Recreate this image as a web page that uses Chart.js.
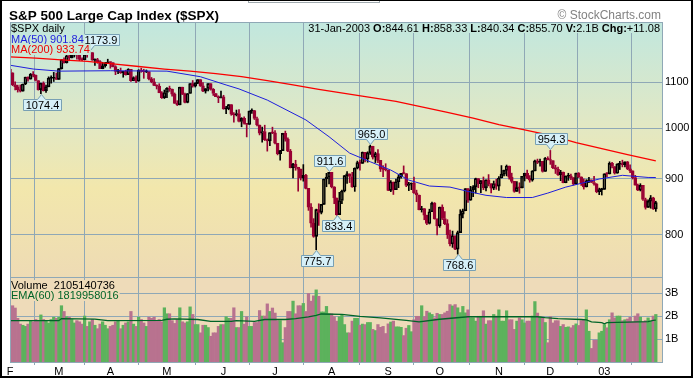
<!DOCTYPE html>
<html>
<head>
<meta charset="utf-8">
<script src="https://cdn.jsdelivr.net/npm/chart.js@4.4.1/dist/chart.umd.min.js"></script>
<style>
  html, body { margin: 0; padding: 0; background: #fff; }
  #wrap { width: 693px; height: 378px; }
</style>
</head>
<body>
<div id="wrap"><canvas id="spx" width="693" height="378"></canvas></div>
<script>
// month boundaries (trading-day index of first session) and their axis letters
var monthTicks = [0, 19, 39, 61, 83, 103, 125, 147, 167, 190, 210, 231];
var monthLabels = ['F', 'M', 'A', 'M', 'J', 'J', 'A', 'S', 'O', 'N', 'D', '03'];
var priceTicks = [800, 900, 1000, 1100];
var volumeTicks = [1, 2, 3];

// daily $SPX, Feb 2002 .. Jan 2003
var opens = [
  1130.2,1122.2,1094.4,1090.0,1083.5,1080.2,1096.2,1111.9,1107.5,1118.5,1116.5,1104.2,1083.3,1098.0,1081.0,1089.8,1109.4,1109.4,1109.9,
  1106.7,1131.8,1153.8,1146.1,1162.8,1157.5,1164.3,1168.3,1165.6,1154.1,1153.0,1166.2,1165.6,1170.3,1151.9,1153.6,1148.7,1131.9,1138.5,1144.6,
  1147.4,1146.5,1136.8,1125.4,1126.3,1122.7,1125.3,1117.8,1130.5,1103.7,1111.0,1102.6,1128.4,1126.1,1124.5,1125.2,1107.8,1101.0,1093.1,1091.5,1076.3,1065.5,
  1076.9,1086.5,1084.6,1073.4,1052.7,1049.5,1088.9,1073.0,1055.0,1074.6,1097.3,1091.1,1098.2,1106.6,1091.9,1079.9,1086.0,1097.1,1083.8,1074.6,1067.7,1064.7,
  1067.1,1040.7,1040.7,1049.9,1029.2,1027.5,1030.7,1013.6,1020.3,1009.6,1007.3,1036.2,1037.1,1020.0,1006.3,989.1,992.7,976.1,973.5,990.6,
  989.8,968.7,948.1,954.0,989.0,977.0,952.8,920.5,927.4,921.4,917.9,900.9,906.0,881.6,847.8,819.9,797.7,843.4,838.7,852.8,899.0,902.8,
  911.6,884.7,864.2,834.6,859.6,876.8,905.5,908.6,903.8,884.2,919.6,930.3,928.8,950.7,937.4,949.4,962.7,940.9,948.0,934.8,917.9,917.8,
  916.1,878.0,893.4,879.2,893.9,903.0,909.6,909.5,886.9,889.8,891.1,873.5,869.5,843.3,845.4,833.7,819.3,839.7,855.0,827.4,
  815.3,847.9,827.9,819.0,800.6,785.3,798.6,776.8,803.9,835.3,841.4,881.3,860.0,879.2,884.4,899.7,890.2,896.1,882.5,897.7,890.2,882.2,890.7,
  885.8,901.0,908.4,915.4,923.8,902.7,894.7,876.2,883.0,882.5,904.3,909.8,900.4,896.7,914.2,933.8,930.6,932.9,913.3,938.9,
  936.3,934.5,920.8,917.6,906.6,912.2,892.0,904.5,905.0,901.6,889.5,910.4,903.0,891.1,884.3,895.8,897.4,892.5,889.7,875.4,879.4,
  879.8,909.0,908.6,929.0,922.9,909.9,927.6,927.6,926.3,931.7,918.2,914.6,901.8,887.6,878.4,887.3,861.4,847.5,858.5,864.4,844.61
];
var highs = [
  1130.2,1122.2,1100.9,1093.6,1094.0,1096.3,1112.0,1112.7,1120.6,1124.7,1117.1,1104.2,1098.3,1101.2,1093.9,1112.7,1115.1,1123.1,1121.6,
  1131.8,1153.8,1157.7,1165.3,1167.9,1172.8,1173.0,1168.3,1165.6,1157.8,1166.5,1172.7,1173.9,1170.3,1155.1,1156.5,1151.0,1147.0,1146.9,1154.4,
  1147.8,1146.5,1138.9,1130.5,1133.3,1125.4,1128.3,1131.8,1130.5,1112.8,1114.9,1129.4,1133.0,1130.5,1128.8,1125.2,1111.2,1108.5,1094.4,1096.8,1078.9,1082.6,
  1088.3,1091.4,1084.6,1075.9,1058.7,1088.9,1088.9,1075.4,1074.8,1097.7,1104.2,1099.3,1106.6,1106.6,1099.6,1086.0,1097.1,1097.1,1085.9,1074.8,1069.5,1079.9,
  1070.7,1046.1,1050.1,1049.9,1033.0,1038.2,1039.0,1021.9,1023.5,1009.6,1036.2,1040.8,1037.6,1023.3,1006.3,1002.1,1005.9,977.4,990.7,1001.8,
  994.5,968.7,954.3,989.1,993.6,979.6,956.3,929.2,934.9,921.4,918.0,926.5,907.8,881.6,854.1,827.7,844.3,853.8,852.9,899.1,909.8,911.6,
  911.6,884.7,864.2,874.4,878.7,905.8,913.0,908.6,911.7,920.2,933.3,935.4,951.2,950.7,951.6,965.0,962.7,950.8,955.8,934.8,924.6,928.2,
  916.1,896.1,893.4,899.1,907.3,909.9,924.0,909.5,892.8,891.8,902.7,878.4,869.5,849.3,845.4,833.7,844.2,856.6,856.0,827.4,
  847.9,851.9,840.0,825.9,808.2,806.5,798.6,806.5,843.3,844.4,881.3,881.3,885.4,886.7,900.7,899.7,896.1,902.9,897.7,907.4,890.6,895.3,898.8,
  903.4,924.6,915.8,925.7,923.8,910.1,894.7,894.3,892.0,904.3,910.1,915.9,905.5,915.0,935.1,937.2,937.2,932.9,940.4,941.8,
  954.3,934.5,925.3,921.5,915.5,912.2,904.9,909.9,908.4,901.6,910.4,911.2,903.0,899.2,897.8,902.4,897.4,903.9,890.5,882.1,881.9,
  909.0,911.3,931.8,930.8,922.9,928.3,932.9,935.1,931.7,932.6,926.0,914.6,906.0,889.7,890.3,887.3,863.9,860.8,868.7,865.5,858.33
];
var lows = [
  1118.5,1092.3,1082.6,1077.8,1078.0,1079.9,1094.7,1102.6,1107.5,1112.3,1103.2,1082.2,1074.4,1080.2,1077.0,1089.8,1098.0,1102.0,1106.7,
  1106.7,1130.9,1144.8,1145.1,1150.7,1157.5,1159.6,1154.3,1151.0,1151.1,1153.0,1159.1,1165.6,1151.6,1139.5,1144.6,1131.9,1131.6,1135.3,1144.6,
  1132.9,1135.7,1117.8,1120.1,1120.7,1111.8,1116.7,1117.8,1102.4,1103.7,1099.4,1102.6,1123.4,1109.3,1122.6,1105.6,1098.9,1092.5,1084.8,1076.3,1063.6,1063.5,
  1065.3,1079.5,1068.9,1052.7,1048.0,1049.5,1072.2,1053.9,1053.9,1074.6,1088.9,1089.2,1096.8,1090.6,1079.0,1075.6,1080.6,1082.2,1070.3,1067.7,1054.3,1064.7,
  1039.9,1030.5,1038.8,1026.9,1012.5,1025.5,1012.9,1002.6,1008.1,981.6,1007.3,1030.9,1017.9,1004.6,985.7,970.9,974.2,952.9,963.7,988.3,
  967.4,945.5,934.9,954.0,972.9,951.7,920.1,900.9,915.6,876.5,897.1,895.0,880.6,842.1,813.3,796.1,775.7,816.1,835.9,852.8,884.7,889.9,
  882.5,853.9,833.4,834.6,854.1,875.2,890.8,892.4,883.6,876.2,918.2,916.0,928.8,931.9,931.1,946.4,937.2,930.4,930.4,913.2,903.3,914.3,
  877.5,875.7,870.5,879.2,882.9,900.5,908.5,884.8,877.5,879.3,872.4,857.4,843.1,839.1,825.8,817.4,818.5,839.7,826.8,800.2,
  812.8,826.1,817.3,794.1,782.0,779.5,775.8,768.6,803.9,828.9,841.4,856.3,860.0,866.6,873.1,882.8,873.8,879.2,877.0,886.2,873.3,879.2,879.8,
  877.7,901.0,904.9,905.0,898.7,891.6,874.6,876.2,872.8,882.5,895.4,899.5,893.1,894.9,914.2,928.4,923.3,912.1,913.3,935.6,
  926.9,918.7,909.5,905.9,895.9,891.9,892.0,896.5,897.7,887.8,889.5,901.7,887.1,880.3,884.3,892.3,892.3,887.5,873.6,870.2,869.5,
  879.8,903.1,908.6,919.9,908.3,909.9,917.0,922.1,922.0,916.7,911.0,899.0,887.6,877.6,876.9,859.7,844.3,847.5,845.9,843.7,840.34
];
var closes = [
  1122.2,1094.4,1090.0,1083.5,1080.2,1096.2,1111.9,1107.5,1118.5,1116.5,1104.2,1083.3,1098.0,1081.0,1089.8,1109.4,1109.4,1109.9,1106.7,
  1131.8,1153.8,1146.1,1162.8,1157.5,1164.3,1168.3,1165.6,1154.1,1153.0,1166.2,1165.6,1170.3,1151.9,1153.6,1148.7,1131.9,1138.5,1144.6,1147.4,
  1146.5,1136.8,1125.4,1126.3,1122.7,1125.3,1117.8,1130.5,1103.7,1111.0,1102.6,1128.4,1126.1,1124.5,1125.2,1107.8,1101.0,1093.1,1091.5,1076.3,1065.5,1076.9,
  1086.5,1084.6,1073.4,1052.7,1049.5,1088.9,1073.0,1055.0,1074.6,1097.3,1091.1,1098.2,1106.6,1091.9,1079.9,1086.0,1097.1,1083.8,1074.6,1067.7,1064.7,1067.1,
  1040.7,1040.7,1049.9,1029.2,1027.5,1030.7,1013.6,1020.3,1009.6,1007.3,1036.2,1037.1,1020.0,1006.3,989.1,992.7,976.1,973.5,990.6,989.8,
  968.7,948.1,954.0,989.0,977.0,952.8,920.5,927.4,921.4,917.9,900.9,906.0,881.6,847.8,819.9,797.7,843.4,838.7,852.8,899.0,902.8,911.6,
  884.7,864.2,834.6,859.6,876.8,905.5,908.6,903.8,884.2,919.6,930.3,928.8,950.7,937.4,949.4,962.7,940.9,948.0,934.8,917.9,917.8,916.1,
  878.0,893.4,879.2,893.9,903.0,909.6,909.5,886.9,889.8,891.1,873.5,869.5,843.3,845.4,833.7,819.3,839.7,855.0,827.4,815.3,
  847.9,827.9,819.0,800.6,785.3,798.6,776.8,803.9,835.3,841.4,881.3,860.0,879.2,884.4,899.7,890.2,896.1,882.5,897.7,890.2,882.2,890.7,885.8,
  901.0,908.4,915.4,923.8,902.7,894.7,876.2,883.0,882.5,904.3,909.8,900.4,896.7,914.2,933.8,930.6,932.9,913.3,938.9,936.3,
  934.5,920.8,917.6,906.6,912.2,892.0,904.5,905.0,901.6,889.5,910.4,903.0,891.1,884.3,895.8,897.4,892.5,889.7,875.4,879.4,879.8,
  909.0,908.6,929.0,922.9,909.9,927.6,927.6,926.3,931.7,918.2,914.6,901.8,887.6,878.4,887.3,861.4,847.5,858.5,864.4,844.61,855.70
];
// volume in billions of shares
var volumes = [
  1.95,2.45,2.35,1.90,1.65,1.60,1.55,1.65,1.80,1.75,1.85,1.80,2.05,1.85,1.80,1.70,1.85,1.95,1.90,
  1.95,2.45,2.20,1.97,1.95,1.85,1.70,1.80,1.75,1.65,2.00,1.55,1.75,1.85,1.60,1.45,1.65,1.75,1.60,1.45,
  1.55,1.60,1.75,1.80,1.45,1.60,1.70,1.75,2.20,1.65,1.55,1.95,1.85,1.70,1.55,1.95,1.90,1.95,1.80,1.85,1.75,2.36,
  2.10,2.10,1.80,
  1.68,1.85,2.36,1.75,1.70,1.75,2.40,2.07,1.63,1.63,1.27,1.60,1.60,1.50,1.12,1.27,1.27,1.55,1.63,
  1.63,1.97,1.90,1.90,2.36,1.50,1.50,2.20,1.65,1.97,1.55,1.55,1.72,1.72,2.24,2.00,2.00,2.53,2.20,2.35,
  2.13,1.80,1.80,0.84,1.50,2.20,2.20,2.65,2.10,2.45,2.45,2.55,2.20,2.98,2.65,2.88,3.14,2.86,2.18,2.18,2.42,2.10,
  2.10,1.97,1.78,1.97,
  2.07,1.63,1.27,1.27,1.78,1.90,1.90,1.60,1.65,1.63,1.72,1.72,1.42,1.37,1.63,1.51,1.55,1.24,
  1.66,1.74,1.78,1.53,1.53,1.51,1.15,1.47,1.59,1.32,1.84,1.99,1.99,2.45,1.97,2.21,2.14,2.07,1.92,2.12,
  2.07,2.07,2.14,2.21,2.50,2.44,2.50,2.36,2.15,2.42,2.14,2.27,1.92,1.92,1.78,1.99,1.99,2.23,1.65,1.80,1.80,2.07,2.00,
  2.27,1.78,1.78,2.23,1.84,1.84,1.42,1.78,1.92,1.84,1.70,1.78,1.78,2.00,2.63,2.13,1.97,1.95,1.72,0.84,
  1.97,1.70,1.80,1.80,1.55,1.63,1.51,1.53,1.49,1.59,1.66,1.59,1.80,1.84,2.27,1.34,0.59,0.95,0.95,1.27,1.34,
  1.63,1.49,1.84,2.14,1.92,2.00,2.00,1.80,1.84,1.87,1.95,1.75,2.00,2.10,1.95,1.75,1.80,1.92,1.78,2.00,2.07
];

// indicator lines: [trading-day index, value]
var ma50 = [[0,1140],[9,1131],[19,1126],[39,1127],[61,1126],[74,1113],[84,1094],[89,1085],[100,1060],
  [115,1017],[124,982],[132,949],[140,932],[148,916],[155,897],[163,886],[171,884],[179,875],[185,869],
  [193,865],[203,865],[209,873],[216,884],[222,891],[229,899],[238,906],[248,902],[251,901.84]];
var ma200 = [[0,1160],[10,1157],[20,1153],[30,1149],[40,1143],[50,1137],[60,1131],[70,1126],[80,1120],
  [90,1113],[100,1104],[110,1094],[120,1084],[130,1075],[140,1066],[150,1057],[160,1045],[170,1033],
  [180,1021],[190,1007],[200,996],[210,985],[220,970],[230,958],[240,946],[251,933.74]];
var ema60 = [[0,1.80],[19,1.80],[20,1.89],[33,1.87],[38,1.80],[59,1.81],[61,1.86],[64,1.88],[73,1.85],
  [78,1.77],[86,1.77],[88,1.80],[95,1.77],[99,1.85],[107,1.85],[111,1.89],[116,1.96],[119,2.03],[121,2.09],
  [129,2.07],[136,1.99],[144,1.92],[154,1.81],[159,1.75],[167,1.86],[178,1.97],[193,1.97],[205,1.97],
  [208,1.93],[213,1.89],[222,1.85],[224,1.83],[226,1.75],[230,1.71],[231,1.66],[232,1.71],[248,1.76],
  [250,1.81],[251,1.82]];

// annotated highs / lows
var peakIdx = [12, 31, 119, 124, 127, 140, 174, 210];
var peakVal = [1074.4, 1173.9, 775.7, 911.6, 833.4, 965.0, 768.6, 954.3];
var peakSide = ['low', 'high', 'low', 'high', 'low', 'high', 'low', 'high'];

var FONT = '"Liberation Sans", Arial, sans-serif';
var GRID = 'rgb(143,168,182)';
var RED = 'rgb(153,0,51)';
var VOL_UP = 'rgb(92,178,92)';
var VOL_DN = 'rgb(184,114,143)';

Chart.defaults.font.family = FONT;
Chart.defaults.font.size = 11;
Chart.defaults.color = '#000';

var days = closes.map(function (c, i) { return i; });
function isUp(i) { return closes[i] >= opens[i]; }
function col(i) { return isUp(i) ? '#000' : RED; }

var upperWick = days.map(function (i) { return {x: i, y: [Math.max(opens[i], closes[i]), highs[i]]}; });
var lowerWick = days.map(function (i) { return {x: i, y: [lows[i], Math.min(opens[i], closes[i])]}; });
var bodies = days.map(function (i) { return {x: i, y: [Math.min(opens[i], closes[i]), Math.max(opens[i], closes[i])]}; });
var volData = days.map(function (i) { return {x: i, y: volumes[i]}; });
function pts(arr) { return arr.map(function (p) { return {x: p[0], y: p[1]}; }); }

var priceFill = null;

var decor = {
  id: 'decor',
  beforeDraw: function (chart) {
    var ctx = chart.ctx, a = chart.chartArea, y = chart.scales.y, v = chart.scales.v;
    ctx.save();
    ctx.fillStyle = '#fff';
    ctx.fillRect(0, 0, chart.width, chart.height);
    priceFill = ctx.createLinearGradient(0, y.top, 0, y.bottom);
    priceFill.addColorStop(0, 'rgb(193,231,222)');
    priceFill.addColorStop(0.4, 'rgb(226,232,196)');
    priceFill.addColorStop(0.65, 'rgb(242,231,172)');
    priceFill.addColorStop(1, 'rgb(238,219,180)');
    ctx.fillStyle = priceFill;
    ctx.fillRect(a.left, y.top, a.right - a.left, y.bottom - y.top);
    ctx.fillStyle = 'rgb(238,219,185)';
    ctx.fillRect(a.left, v.top, a.right - a.left, v.bottom - v.top);
    ctx.restore();
  },
  afterDraw: function (chart) {
    var ctx = chart.ctx, a = chart.chartArea;
    var x = chart.scales.x, y = chart.scales.y, v = chart.scales.v;
    ctx.save();

    // right edge of the legend block, call-outs keep clear of it
    ctx.font = '11px ' + FONT;
    var legendRight = 11 + ctx.measureText('MA(50) 901.84').width;

    // high / low call-outs
    ctx.textAlign = 'center';
    ctx.textBaseline = 'middle';
    ctx.lineWidth = 1;
    peakIdx.forEach(function (idx, k) {
      var px = Math.round(x.getPixelForValue(idx)) + 0.5;
      var py = y.getPixelForValue(peakVal[k]);
      var txt = peakVal[k].toFixed(1);
      var w = Math.ceil(ctx.measureText(txt).width) + 4, h = 11;
      var left = Math.round(px - w / 2) + 0.5;
      var top, bot, tip;
      if (peakSide[k] === 'high') {
        tip = Math.round(py) - 0.5; bot = tip - 5; top = bot - h;
      } else {
        tip = Math.round(py) + 0.5; top = tip + 5; bot = top + h;
      }
      if (top < 56 && left < legendRight) left = Math.round(legendRight) - 1.5;
      var right = left + w;
      ctx.beginPath();
      if (peakSide[k] === 'high') {
        ctx.moveTo(left, top); ctx.lineTo(right, top); ctx.lineTo(right, bot);
        ctx.lineTo(px + 4, bot); ctx.lineTo(px, tip); ctx.lineTo(px - 4, bot); ctx.lineTo(left, bot);
      } else {
        ctx.moveTo(left, top); ctx.lineTo(px - 4, top); ctx.lineTo(px, tip); ctx.lineTo(px + 4, top);
        ctx.lineTo(right, top); ctx.lineTo(right, bot); ctx.lineTo(left, bot);
      }
      ctx.closePath();
      ctx.fillStyle = 'rgb(214,240,248)';
      ctx.fill();
      ctx.strokeStyle = 'rgb(120,160,180)';
      ctx.stroke();
      ctx.fillStyle = '#000';
      ctx.fillText(txt, (left + right) / 2, (top + bot) / 2 + 0.5);
    });

    // legend texts with their own background
    ctx.textAlign = 'left';
    ctx.textBaseline = 'alphabetic';
    function tag(txt, x0, base, color, bg, font) {
      ctx.font = font || ('11px ' + FONT);
      var w = ctx.measureText(txt).width;
      ctx.fillStyle = bg;
      ctx.fillRect(x0 - 1, base - 9, w + 2, 11);
      ctx.fillStyle = color;
      ctx.fillText(txt, x0, base);
    }
    tag('$SPX daily', 11, 32, '#000', priceFill);
    tag('MA(50) 901.84', 11, 43, 'rgb(30,30,220)', priceFill);
    tag('MA(200) 933.74', 11, 53, 'rgb(240,0,0)', priceFill);
    tag('Volume  2105140736', 11, 289, '#000', 'rgb(238,219,185)');
    tag('EMA(60) 1819958016', 11, 299, 'rgb(0,100,40)', 'rgb(238,219,185)');

    // quote line, right aligned, bold field names
    var segs = [['31-Jan-2003 ', 0], ['O:', 1], ['844.61 ', 0], ['H:', 1], ['858.33 ', 0], ['L:', 1],
      ['840.34 ', 0], ['C:', 1], ['855.70 ', 0], ['V:', 1], ['2.1B ', 0], ['Chg:', 1], ['+11.08', 0]];
    var total = 0;
    segs.forEach(function (s) {
      ctx.font = (s[1] ? 'bold ' : '') + '11px ' + FONT;
      s.push(ctx.measureText(s[0]).width);
      total += s[2];
    });
    var sx = a.right - 2 - total;
    ctx.fillStyle = priceFill;
    ctx.fillRect(sx - 2, y.top, total + 3, 10);
    ctx.fillStyle = '#000';
    segs.forEach(function (s) {
      ctx.font = (s[1] ? 'bold ' : '') + '11px ' + FONT;
      ctx.fillText(s[0], sx, 32);
      sx += s[2];
    });

    // panel frames
    ctx.strokeStyle = GRID;
    ctx.lineWidth = 1;
    ctx.strokeRect(a.left + 0.5, y.top - 0.5, a.right - a.left, y.bottom - y.top + 1);
    ctx.strokeRect(a.left + 0.5, v.top + 0.5, a.right - a.left, v.bottom - v.top);

    // title, credit and outer frame
    ctx.fillStyle = '#000';
    ctx.font = 'bold 13.5px ' + FONT;
    ctx.fillText('S&P 500 Large Cap Index ($SPX)', 9, 19.5);
    ctx.font = '12px ' + FONT;
    ctx.fillStyle = 'rgb(130,130,130)';
    ctx.textAlign = 'right';
    ctx.fillText('\u00A9 StockCharts.com', 661, 18.5);
    ctx.strokeStyle = 'rgb(160,170,175)';
    ctx.strokeRect(248.5, -2, 131, 4.5);
    ctx.fillStyle = '#000';
    ctx.fillRect(0, 0, 693, 1);
    ctx.fillRect(0, 0, 2, 378);
    ctx.fillRect(0, 376, 693, 2);
    ctx.fillRect(691, 0, 2, 378);
    ctx.restore();
  }
};

new Chart(document.getElementById('spx'), {
  type: 'bar',
  data: {
    datasets: [
      {type: 'line', label: 'MA(50)', data: pts(ma50), yAxisID: 'y', borderColor: 'rgb(30,30,220)',
        borderWidth: 1, pointRadius: 0, tension: 0, order: 0},
      {type: 'line', label: 'MA(200)', data: pts(ma200), yAxisID: 'y', borderColor: 'rgb(250,0,0)',
        borderWidth: 1.3, pointRadius: 0, tension: 0, order: 0},
      {type: 'line', label: 'EMA(60)', data: pts(ema60), yAxisID: 'v', borderColor: 'rgb(0,100,40)',
        borderWidth: 1.3, pointRadius: 0, tension: 0, order: 0},
      {label: 'body', data: bodies, yAxisID: 'y', grouped: false, barThickness: 3, minBarLength: 1,
        borderWidth: 1, borderSkipped: false,
        borderColor: days.map(col),
        backgroundColor: days.map(function (i) { return isUp(i) ? 'rgba(0,0,0,0)' : RED; }),
        order: 1},
      {label: 'upper', data: upperWick, yAxisID: 'y', grouped: false, barThickness: 1,
        backgroundColor: days.map(col), order: 2},
      {label: 'lower', data: lowerWick, yAxisID: 'y', grouped: false, barThickness: 1,
        backgroundColor: days.map(col), order: 2},
      {label: 'Volume', data: volData, yAxisID: 'v', grouped: false, barPercentage: 1, categoryPercentage: 1,
        backgroundColor: days.map(function (i) { return isUp(i) ? VOL_UP : VOL_DN; }), order: 3}
    ]
  },
  options: {
    responsive: false,
    animation: false,
    devicePixelRatio: 1,
    layout: {padding: {left: 10, top: 23, right: 0, bottom: 2}},
    plugins: {legend: {display: false}, tooltip: {enabled: false}},
    scales: {
      x: {
        type: 'linear', min: 0, max: 253.4, offset: false,
        grid: {color: GRID, tickColor: GRID, tickLength: 3},
        border: {display: false},
        afterBuildTicks: function (s) { s.ticks = monthTicks.map(function (t) { return {value: t}; }); },
        afterFit: function (s) { s.height = 14; },
        ticks: {autoSkip: false, maxRotation: 0, padding: 0,
          callback: function (val, i) { return monthLabels[i]; }}
      },
      y: {
        type: 'logarithmic', position: 'right', stack: 'panels', stackWeight: 254,
        min: 732.8, max: 1245,
        grid: {color: GRID, drawTicks: false},
        border: {display: false},
        afterBuildTicks: function (s) { s.ticks = priceTicks.map(function (t) { return {value: t}; }); },
        afterFit: function (s) { s.width = 31; },
        ticks: {padding: 3, callback: function (val) { return String(val); }}
      },
      v: {
        type: 'linear', position: 'right', stack: 'panels', stackWeight: 85,
        min: 0, max: 3.7,
        grid: {color: GRID, drawTicks: false},
        border: {display: false},
        afterBuildTicks: function (s) { s.ticks = volumeTicks.map(function (t) { return {value: t}; }); },
        afterFit: function (s) { s.width = 31; },
        ticks: {padding: 3, callback: function (val) { return val + 'B'; }}
      }
    }
  },
  plugins: [decor]
});
</script>
</body>
</html>
